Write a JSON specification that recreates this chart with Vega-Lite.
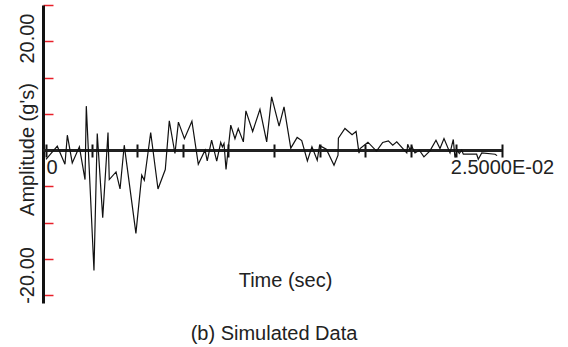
{
  "$schema": "https://vega.github.io/schema/vega-lite/v6.json",
  "width": 459,
  "height": 298,
  "autosize": {"type": "none"},
  "padding": {"left": 43, "top": 5, "right": 66, "bottom": 44},
  "background": "white",
  "config": {"view": {"stroke": null}, "font": "Liberation Sans"},
  "title": {
    "text": "(b) Simulated Data",
    "orient": "bottom",
    "anchor": "middle",
    "font": "Liberation Sans",
    "fontSize": 20,
    "fontWeight": "normal",
    "color": "#222222",
    "offset": 13,
    "dx": 1.5
  },
  "data": {
    "values": [
      {"t": 0.0, "v": -1.7},
      {"t": 0.00062, "v": 0.74},
      {"t": 0.00104, "v": -2.58},
      {"t": 0.00117, "v": 2.76},
      {"t": 0.00144, "v": -2.34},
      {"t": 0.00183, "v": 0.61},
      {"t": 0.00214, "v": -5.4},
      {"t": 0.00221, "v": 8.1},
      {"t": 0.00263, "v": -22.1},
      {"t": 0.00281, "v": 3.08},
      {"t": 0.00311, "v": -12.4},
      {"t": 0.0034, "v": 3.26},
      {"t": 0.00347, "v": -5.4},
      {"t": 0.00384, "v": -4.0},
      {"t": 0.00406, "v": -7.13},
      {"t": 0.00429, "v": 0.92},
      {"t": 0.00493, "v": -15.3},
      {"t": 0.00525, "v": -4.6},
      {"t": 0.00539, "v": -5.52},
      {"t": 0.00574, "v": 3.26},
      {"t": 0.00614, "v": -7.13},
      {"t": 0.00654, "v": -3.55},
      {"t": 0.00676, "v": 5.4},
      {"t": 0.00707, "v": -0.61},
      {"t": 0.00726, "v": 5.16},
      {"t": 0.00759, "v": 2.12},
      {"t": 0.008, "v": 5.34},
      {"t": 0.00835, "v": -2.58},
      {"t": 0.00872, "v": 0.0},
      {"t": 0.00884, "v": -1.97},
      {"t": 0.00908, "v": 1.84},
      {"t": 0.00936, "v": -2.03},
      {"t": 0.00958, "v": 1.42},
      {"t": 0.00967, "v": 0.61},
      {"t": 0.00976, "v": 1.23},
      {"t": 0.00987, "v": -3.55},
      {"t": 0.01013, "v": 4.6},
      {"t": 0.01036, "v": 2.12},
      {"t": 0.01054, "v": 4.0},
      {"t": 0.01082, "v": 1.53},
      {"t": 0.01096, "v": 7.24},
      {"t": 0.01133, "v": 3.44},
      {"t": 0.01173, "v": 7.5},
      {"t": 0.0121, "v": 1.53},
      {"t": 0.01237, "v": 9.82},
      {"t": 0.01278, "v": 4.42},
      {"t": 0.01305, "v": 7.97},
      {"t": 0.01342, "v": 0.37},
      {"t": 0.01377, "v": 2.34},
      {"t": 0.01402, "v": 1.77},
      {"t": 0.01433, "v": -1.99},
      {"t": 0.01458, "v": 0.63},
      {"t": 0.01487, "v": -1.84},
      {"t": 0.015, "v": 0.92},
      {"t": 0.01513, "v": 0.61},
      {"t": 0.01537, "v": 0.18},
      {"t": 0.01579, "v": -2.76},
      {"t": 0.01601, "v": -0.92},
      {"t": 0.01603, "v": 2.21},
      {"t": 0.01639, "v": 4.0},
      {"t": 0.01678, "v": 2.85},
      {"t": 0.017, "v": 3.44},
      {"t": 0.01716, "v": -0.55},
      {"t": 0.01722, "v": 0.31},
      {"t": 0.01765, "v": 1.47},
      {"t": 0.01812, "v": -0.18},
      {"t": 0.01846, "v": 1.42},
      {"t": 0.01877, "v": 1.71},
      {"t": 0.01901, "v": 0.92},
      {"t": 0.01923, "v": 1.53},
      {"t": 0.01978, "v": -0.5},
      {"t": 0.01983, "v": 1.1},
      {"t": 0.01996, "v": 0.0},
      {"t": 0.02005, "v": 0.74},
      {"t": 0.02023, "v": -0.5},
      {"t": 0.02047, "v": 0.0},
      {"t": 0.02072, "v": -1.23},
      {"t": 0.02105, "v": -0.13},
      {"t": 0.02138, "v": 1.84},
      {"t": 0.0216, "v": 0.31},
      {"t": 0.02182, "v": 2.15},
      {"t": 0.02215, "v": -0.5},
      {"t": 0.02233, "v": 1.97},
      {"t": 0.02242, "v": -1.34},
      {"t": 0.02255, "v": 0.0},
      {"t": 0.02266, "v": -0.61},
      {"t": 0.02279, "v": 0.0},
      {"t": 0.02288, "v": -0.74},
      {"t": 0.02361, "v": -0.74},
      {"t": 0.0237, "v": -1.66},
      {"t": 0.02389, "v": -0.5},
      {"t": 0.02462, "v": -0.74},
      {"t": 0.02473, "v": -1.0}
    ]
  },
  "layer": [
    {
      "mark": {"type": "rule", "color": "#222222", "strokeWidth": 2},
      "encoding": {
        "y": {"datum": 0, "type": "quantitative"}
      }
    },
    {
      "mark": {"type": "line", "color": "#111111", "strokeWidth": 1.2, "interpolate": "linear"},
      "encoding": {
        "x": {
          "field": "t",
          "type": "quantitative",
          "scale": {"domain": [-0.000164, 0.025], "nice": false, "zero": false},
          "axis": {
            "title": "Time (sec)",
            "titleFont": "Liberation Sans",
            "titleFontSize": 20,
            "titleFontWeight": "normal",
            "titleColor": "#222222",
            "titleX": 242,
            "titleY": 142.7,
            "titleAlign": "center",
            "titleBaseline": "alphabetic",
            "values": [0, 0.0025, 0.005, 0.0075, 0.01, 0.0125, 0.015, 0.0175, 0.02, 0.0225, 0.025],
            "tickCount": 30,
            "domain": false,
            "grid": false,
            "ticks": true,
            "tickSize": 13,
            "tickWidth": 2,
            "tickColor": "#111111",
            "offset": -159,
            "labelExpr": "datum.value == 0 ? '0' : (datum.value > 0.0249 ? '2.5000E-02' : '')",
            "labelAlign": {"condition": {"test": "datum.value == 0", "value": "left"}, "value": "center"},
            "labelFont": "Liberation Sans",
            "labelFontSize": 20,
            "labelColor": "#222222",
            "labelPadding": 0,
            "labelFlush": false,
            "labelOverlap": false,
            "labelBound": false
          }
        },
        "y": {
          "field": "v",
          "type": "quantitative",
          "scale": {"domain": [-28.1, 26.7], "nice": false, "zero": false},
          "axis": {
            "title": "Amplitude (g's)",
            "titleFont": "Liberation Sans",
            "titleFontSize": 20,
            "titleFontWeight": "normal",
            "titleColor": "#222222",
            "titleAngle": 270,
            "titleX": -10,
            "titleY": 144,
            "titleAlign": "center",
            "titleBaseline": "alphabetic",
            "values": [-26.667, -20, -13.333, -6.667, 0, 6.667, 13.333, 20, 26.667],
            "tickCount": 30,
            "domain": true,
            "domainColor": "#111111",
            "domainWidth": 3,
            "grid": false,
            "ticks": true,
            "tickColor": "#e8202a",
            "tickSize": -10,
            "tickWidth": 1.5,
            "labelExpr": "datum.value == 20 ? '20.00' : (datum.value == -20 ? '-20.00' : '')",
            "labelAngle": 270,
            "labelAlign": "center",
            "labelBaseline": "alphabetic",
            "labelPadding": 20,
            "labelOffset": {"condition": {"test": "datum.value < 0", "value": 16}, "value": -3.4},
            "labelFont": "Liberation Sans",
            "labelFontSize": 20,
            "labelColor": "#222222",
            "labelOverlap": false,
            "labelBound": false,
            "labelFlush": false
          }
        }
      }
    }
  ]
}
